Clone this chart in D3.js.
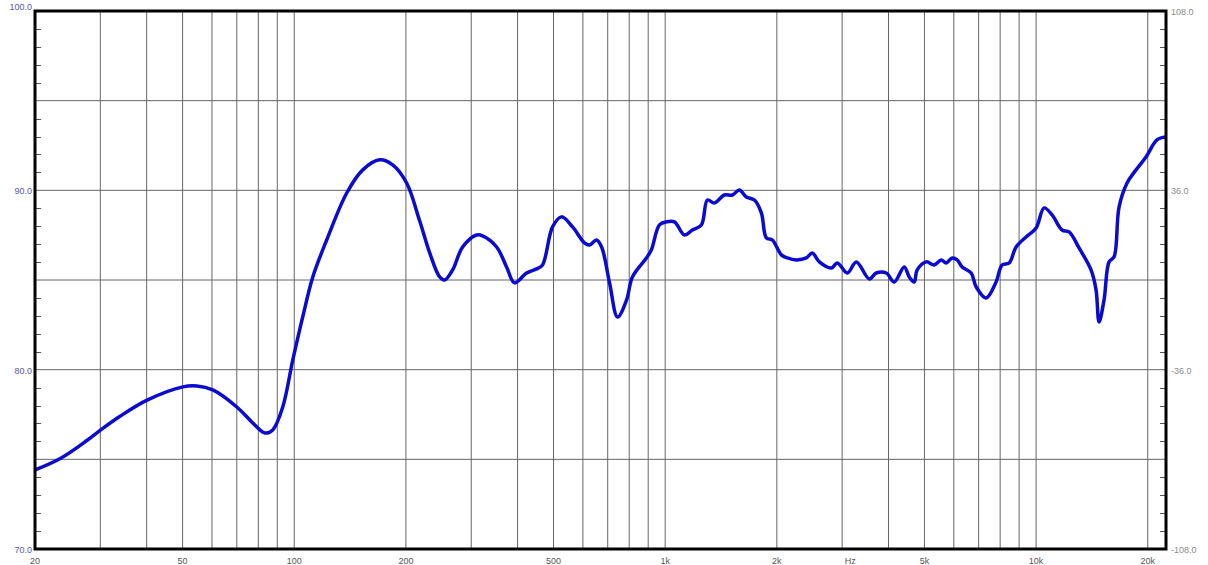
<!DOCTYPE html>
<html>
<head>
<meta charset="utf-8">
<script src="https://cdn.jsdelivr.net/npm/d3@7"></script>
<style>
  body { margin: 0; background: #fff; }
  svg { display: block; font-family: "Liberation Sans", Arial, sans-serif; }
</style>
</head>
<body>
<svg id="chart"></svg>
<script>
// frequency response (Hz / dB)
const freqs = [20, 23.4, 27.6, 29.9, 33.9, 40.1, 50.1, 54.6, 60.3, 70.0, 77.3, 83.3, 87.5, 93.1, 99.1,
  105.4, 112.2, 122.3, 138.5, 153.0, 169.9, 184.2, 200.9, 217.8, 231.8, 246.6, 254.4, 267.3, 284.4,
  310.2, 321.9, 351.2, 373.6, 392.6, 423, 450, 467, 497, 525.5, 562.7, 606, 625, 653, 674, 708, 744,
  787, 816, 890, 918, 965, 1008, 1059, 1127, 1184, 1252, 1300, 1357, 1444, 1518, 1585, 1655, 1740,
  1817, 1874, 1945, 2057, 2135, 2257, 2402, 2492, 2604, 2806, 2911, 3098, 3276, 3550, 3707, 3945,
  4146, 4411, 4550, 4693, 4781, 5056, 5313, 5549, 5724, 5939, 6127, 6320, 6684, 6895, 7333, 7801,
  8097, 8458, 8833, 9398, 10000, 10510, 11044, 11749, 12272, 13056, 14066, 14510, 14784, 15250,
  15730, 16226, 16738, 17590, 18596, 19784, 21181, 22393];
const spl = [74.41, 75.05, 76.05, 76.6, 77.4, 78.3, 79.04, 79.09, 78.87, 77.92, 77.03, 76.47, 76.64, 77.92, 80.54,
  82.94, 85.17, 87.23, 89.85, 91.14, 91.70, 91.42, 90.41, 88.3, 86.51, 85.17, 85.00, 85.56, 86.84,
  87.51, 87.46, 86.84, 85.73, 84.84, 85.39, 85.62, 85.84, 87.96, 88.52, 87.96, 87.07, 86.95, 87.23, 86.84, 84.84, 82.94,
  83.89, 85.17, 86.23, 86.68, 88.07, 88.24, 88.24, 87.51, 87.79, 88.07, 89.46, 89.30, 89.74, 89.74, 90.02, 89.63, 89.46,
  88.74, 87.35, 87.23, 86.40, 86.23, 86.12, 86.23, 86.51, 86.01, 85.67, 85.95, 85.39, 86.01, 85.06, 85.39, 85.39,
  84.89, 85.73, 85.17, 84.89, 85.56, 86.01, 85.84, 86.12, 85.95, 86.23, 86.12, 85.73, 85.39, 84.61, 84.00, 84.89,
  85.84, 85.95, 86.84, 87.40, 87.90, 89.02, 88.63, 87.79, 87.68, 86.79, 85.56, 84.45, 82.66, 83.89,
  86.01, 86.29, 89.07, 90.41, 91.14, 91.86, 92.81, 92.98];

// axis labels
const xTickValues = [20, 50, 100, 200, 500, 1000, 2000, 3000, 5000, 10000, 20000];
const xTickLabels = ["20", "50", "100", "200", "500", "1k", "2k", "Hz", "5k", "10k", "20k"];
const leftLabels = [100, 90, 80, 70];
const rightLabels = [108, 36, -36, -108];

const W = 1208, H = 565;
const plot = { left: 35, top: 11, right: 1166, bottom: 549 };

const svg = d3.select("#chart").attr("width", W).attr("height", H);

const x = d3.scaleLog().domain([20, 22400]).range([plot.left, plot.right]);
const y = d3.scaleLinear().domain([70, 100]).range([plot.bottom, plot.top]);
const yRight = d3.scaleLinear().domain([-108, 108]).range([plot.bottom, plot.top]);

// vertical grid (20, 30 ... 20k)
svg.append("g")
  .selectAll("line")
  .data(x.ticks().filter(f => f > 20))
  .enter().append("line")
  .attr("x1", d => x(d)).attr("x2", d => x(d))
  .attr("y1", plot.top).attr("y2", plot.bottom)
  .attr("stroke", "#666").attr("stroke-width", 1);

// horizontal grid every 5 dB
svg.append("g")
  .selectAll("line")
  .data(d3.range(75, 100, 5))
  .enter().append("line")
  .attr("x1", plot.left).attr("x2", plot.right)
  .attr("y1", d => y(d)).attr("y2", d => y(d))
  .attr("stroke", "#666").attr("stroke-width", 1);

// minor ticks, left side every 1 dB
svg.append("g")
  .selectAll("line")
  .data(d3.range(71, 100, 1).filter(v => v % 5 !== 0))
  .enter().append("line")
  .attr("x1", plot.left).attr("x2", plot.left + 6)
  .attr("y1", d => Math.round(y(d)) + 0.5).attr("y2", d => Math.round(y(d)) + 0.5)
  .attr("stroke", "#555");

// minor ticks, right side every 7.2
svg.append("g")
  .selectAll("line")
  .data(d3.range(1, 30).filter(i => i % 5 !== 0).map(i => -108 + i * 7.2))
  .enter().append("line")
  .attr("x1", plot.right - 6).attr("x2", plot.right)
  .attr("y1", d => Math.round(yRight(d)) + 0.5).attr("y2", d => Math.round(yRight(d)) + 0.5)
  .attr("stroke", "#555");

// response curve
const line = d3.line()
  .x((d, i) => x(freqs[i]))
  .y(d => y(d))
  .curve(d3.curveCatmullRom.alpha(0.5));

svg.append("path")
  .datum(spl)
  .attr("d", line)
  .attr("fill", "none")
  .attr("stroke", "#0a0ad0")
  .attr("stroke-width", 3.5)
  .attr("stroke-linejoin", "round");

// frame
svg.append("rect")
  .attr("x", plot.left).attr("y", plot.top)
  .attr("width", plot.right - plot.left).attr("height", plot.bottom - plot.top)
  .attr("fill", "none").attr("stroke", "#000").attr("stroke-width", 3);

// left labels
svg.append("g")
  .selectAll("text")
  .data(leftLabels)
  .enter().append("text")
  .attr("x", plot.left - 3)
  .attr("y", d => d === 100 ? y(d) - 1 : y(d) + 4)
  .attr("text-anchor", "end")
  .attr("font-size", 9)
  .attr("fill", "#5858a8")
  .text(d => d.toFixed(1));

// right labels
svg.append("g")
  .selectAll("text")
  .data(rightLabels)
  .enter().append("text")
  .attr("x", plot.right + 5)
  .attr("y", d => yRight(d) + 4)
  .attr("text-anchor", "start")
  .attr("font-size", 9)
  .attr("fill", "#8a8a8a")
  .text(d => d.toFixed(1));

// bottom labels
svg.append("g")
  .selectAll("text")
  .data(xTickValues)
  .enter().append("text")
  .attr("x", d => x(d) + (d === 3000 ? 8 : 0))
  .attr("y", 564)
  .attr("text-anchor", "middle")
  .attr("font-size", 9)
  .attr("fill", "#555")
  .text((d, i) => xTickLabels[i]);
</script>
</body>
</html>
